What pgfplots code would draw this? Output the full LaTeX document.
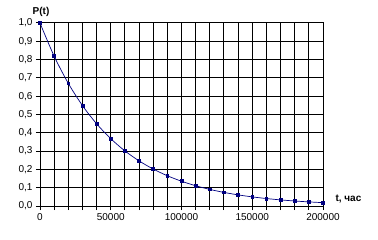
\documentclass[border=0pt]{standalone}
\usepackage{fontspec}
\setmainfont{Liberation Sans}
\usepackage{pgfplots}
\pgfplotsset{compat=1.18}
\definecolor{navyline}{RGB}{0,0,128}
\begin{document}
\fontsize{10bp}{12bp}\selectfont
\begin{tikzpicture}[x=1bp,y=1bp]
\path[use as bounding box] (-40,-34) rectangle (338,206);
\begin{axis}[
  at={(0,0)}, anchor=south west,
  scale only axis, width=283bp, height=183bp,
  xmin=0, xmax=200000, ymin=0, ymax=1,
  xtick={0,50000,100000,150000,200000},
  minor xtick={0,10000,...,200000},
  ytick={0,0.1,0.2,0.3,0.4,0.5,0.6,0.7,0.8,0.9,1.0},
  grid=both,
  major grid style={black, line width=1bp},
  minor grid style={black, line width=1bp},
  axis line style={black, line width=1bp},
  tick align=outside, xtick pos=bottom, ytick pos=left,
  major tick length=4bp, minor tick length=4bp,
  every tick/.style={black, line width=1bp},
  scaled ticks=false,
  /pgf/number format/assume math mode=true,
  xticklabel style={/pgf/number format/.cd, fixed, precision=0, 1000 sep={}, /tikz/.cd, font=\fontsize{10bp}{12bp}\selectfont},
  yticklabel style={/pgf/number format/.cd, fixed, fixed zerofill, precision=1, use comma, /tikz/.cd, font=\fontsize{10bp}{12bp}\selectfont},
  clip=false,
]
\addplot[navyline, line width=0.7pt, smooth, mark=square*, mark size=1.4bp, mark options={fill=navyline}] coordinates {
(0,1.0) (10000,0.8187) (20000,0.6703) (30000,0.5488) (40000,0.4493)
(50000,0.3679) (60000,0.3012) (70000,0.2466) (80000,0.2019) (90000,0.1653)
(100000,0.1353) (110000,0.1108) (120000,0.0907) (130000,0.0743) (140000,0.0608)
(150000,0.0498) (160000,0.0408) (170000,0.0334) (180000,0.0273) (190000,0.0224)
(200000,0.0183)
};
\node[font=\fontsize{10bp}{12bp}\selectfont\bfseries] at ([shift={(1bp,11bp)}]rel axis cs:0,1) {P(t)};
\node[anchor=west, font=\fontsize{10bp}{12bp}\selectfont\bfseries] at ([shift={(9bp,7bp)}]rel axis cs:1,0) {t, час};
\end{axis}
\end{tikzpicture}
\end{document}
